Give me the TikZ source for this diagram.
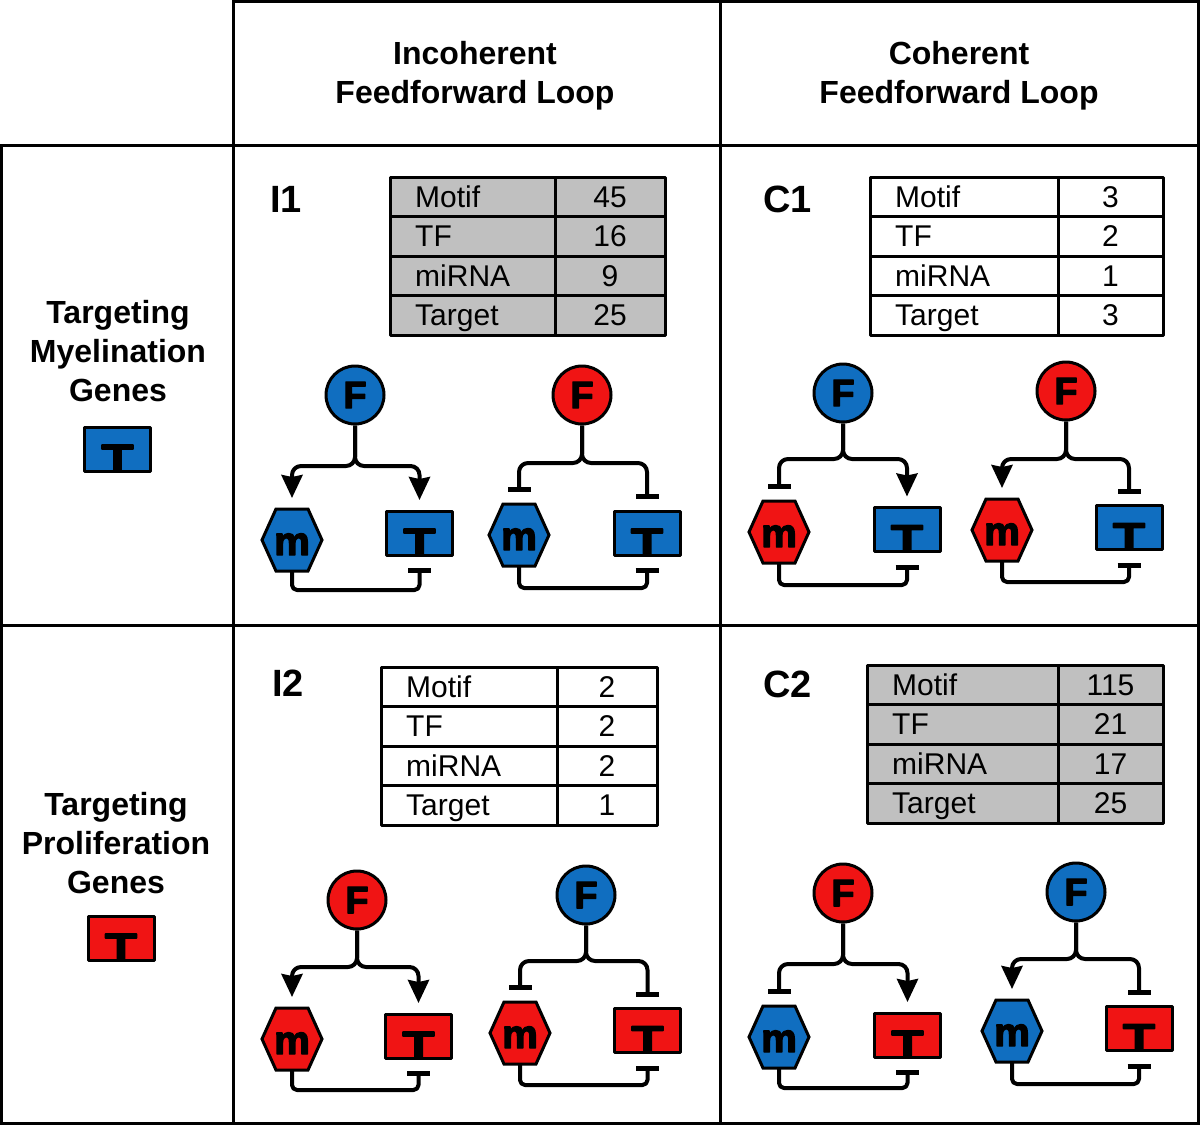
\documentclass[tikz,border=0pt]{standalone}
\usepackage{fontspec}
\setmainfont{Liberation Sans}
\newfontfamily\heavy{Liberation Sans}[FakeBold=3.5]
\newfontfamily\heavywide{Liberation Sans}[FakeBold=3.5, FakeStretch=1.4]
\usetikzlibrary{arrows.meta, calc}
\definecolor{ffblue}{RGB}{16,110,192}
\definecolor{ffred}{RGB}{240,20,20}
\definecolor{ffgray}{RGB}{192,192,192}
\tikzset{
 gridline/.style={line width=3pt},
 hdr/.style={font=\fontsize{32}{39}\selectfont\bfseries, align=center, inner sep=0},
 plabel/.style={font=\fontsize{38}{40}\selectfont\bfseries, anchor=base west, inner sep=0},
 cellbox/.style={draw, line width=3pt, anchor=north west, inner sep=0, outer sep=0},
 celltext/.style={font=\fontsize{30}{32}\selectfont, inner sep=0, text height=23pt, text depth=2pt},
 fnode/.style={circle, draw, line width=3pt, minimum size=58pt, inner sep=0, font=\fontsize{38}{38}\selectfont\heavy\bfseries},
 hexline/.style={draw, line width=3pt, line join=miter},
 mnode/.style={rectangle, minimum width=60pt, minimum height=62pt, inner sep=0, outer sep=0, text height=30pt, text depth=0pt, font=\fontsize{40}{40}\selectfont\heavy\bfseries},
 tbox/.style={rectangle, draw, line width=3pt, minimum width=66pt, minimum height=44pt, inner sep=0, outer sep=0},
 tglyph/.style={inner sep=0, font=\fontsize{38}{38}\selectfont\heavywide\bfseries},
 conn/.style={line width=4pt, rounded corners=9pt},
 act/.style={conn, -{Stealth[length=23pt, width=21pt, inset=2pt]}, shorten >=11pt},
 inh/.style={conn, -{Bar[width=23pt, line width=5pt]}, shorten >=12pt},
 inhb/.style={conn, rounded corners=5pt, -{Bar[width=23pt, line width=5pt]}, shorten >=13pt},
}
\newcommand\statstable[7]{%
  \foreach \lab/\val [count=\i] in {#7} {
    \node[cellbox, fill=#6, minimum width=#4, minimum height=39.5] (#1l\i) at (#2,{#3+(\i-1)*39.5}) {};
    \node[cellbox, fill=#6, minimum width=#5, minimum height=39.5] (#1r\i) at (#1l\i.north east) {};
    \node[celltext, anchor=west] (#1a\i) at ($(#1l\i.west)+(25,0)$) {\lab};
    \node[celltext] (#1b\i) at (#1r\i.center) {\val};
  }%
}
\begin{document}
\begin{tikzpicture}[x=1pt, y=-1pt, line join=round]
\useasboundingbox (0,0) rectangle (1200,1125);
\fill[white] (0,0) rectangle (1200,1125);

% grid
\draw[gridline] (233,0) -- (233,1125);
\draw[gridline] (720,0) -- (720,1125);
\draw[gridline] (233,1.5) -- (1200,1.5);
\draw[gridline] (0,145) -- (1200,145);
\draw[gridline] (0,625) -- (1200,625);
\draw[gridline] (0,1123.5) -- (1200,1123.5);
\draw[gridline] (1.5,145) -- (1.5,1125);
\draw[gridline] (1198.5,0) -- (1198.5,1125);

% headers
\node[hdr] (h1) at (475,76) {Incoherent\\Feedforward Loop};
\node[hdr] (h2) at (959,76) {Coherent\\Feedforward Loop};
\node[hdr] (r1) at (118,351) {Targeting\\Myelination\\Genes};
\node[hdr] (r2) at (116,843) {Targeting\\Proliferation\\Genes};

% legend boxes
\node[tbox, fill=ffblue] (legB) at (117.5,449) {};
\node[tglyph, anchor=base] (legBt) at (legB.south) {T};
\node[tbox, fill=ffred] (legR) at (121,938) {};
\node[tglyph, anchor=base] (legRt) at (legR.south) {T};

% panel labels
\node[plabel] (pI1) at (270,212) {I1};
\node[plabel] (pC1) at (763,212) {C1};
\node[plabel] (pI2) at (272,696) {I2};
\node[plabel] (pC2) at (763,697) {C2};

% tables
\statstable{tI1}{390}{177}{165}{110}{ffgray}{Motif/45,TF/16,miRNA/9,Target/25}
\statstable{tC1}{870}{177}{188}{105}{white}{Motif/3,TF/2,miRNA/1,Target/3}
\statstable{tI2}{381}{667}{176}{100}{white}{Motif/2,TF/2,miRNA/2,Target/1}
\statstable{tC2}{867}{665}{191}{105}{ffgray}{Motif/115,TF/21,miRNA/17,Target/25}

% motifs
\foreach \id/\fx/\fy/\fc/\mx/\my/\mc/\tx/\ty/\tc/\yh/\la/\ra/\bt in {
 I1L/355/395/ffblue/292/540/ffblue/419.5/533/ffblue/466/act/act/590,
 I1R/582/395/ffred/519/535/ffblue/647/533/ffblue/463/inh/inh/588,
 C1L/843/393/ffblue/779/532/ffred/907/529.5/ffblue/459/inh/act/585,
 C1R/1066/391/ffred/1002/530/ffred/1129/527.5/ffblue/459/act/inh/582,
 I2L/357/900/ffred/292/1039/ffred/418.5/1036/ffred/967/act/act/1090,
 I2R/586/895/ffblue/520/1033/ffred/647.5/1030.5/ffred/961/inh/inh/1085,
 C2L/843/893/ffred/779/1037/ffblue/907.5/1035/ffred/964/inh/act/1088,
 C2R/1076/892/ffblue/1012/1031/ffblue/1139/1028.5/ffred/959/act/inh/1084} {
  \node[fnode, fill=\fc] (F\id) at (\fx,\fy) {F};
  \path[hexline, fill=\mc] (\mx-30,\my) -- (\mx-16,\my-31) -- (\mx+16,\my-31) -- (\mx+30,\my) -- (\mx+16,\my+31) -- (\mx-16,\my+31) -- cycle;
  \node[mnode] (m\id) at (\mx,\my) {m};
  \node[tbox, fill=\tc] (T\id) at (\tx,\ty) {};
  \node[tglyph, anchor=base] (Tt\id) at (T\id.south) {T};
  \coordinate (c\id) at (\fx,\yh);
  \coordinate (b\id) at (\mx,\bt);
  \draw[\la] (F\id.south) -- (c\id) -| (m\id.north);
  \draw[\ra] (F\id.south) -- (c\id) -| (T\id.north);
  \draw[inhb] (m\id.south) -- (b\id) -| (T\id.south);
}
\end{tikzpicture}
\end{document}
